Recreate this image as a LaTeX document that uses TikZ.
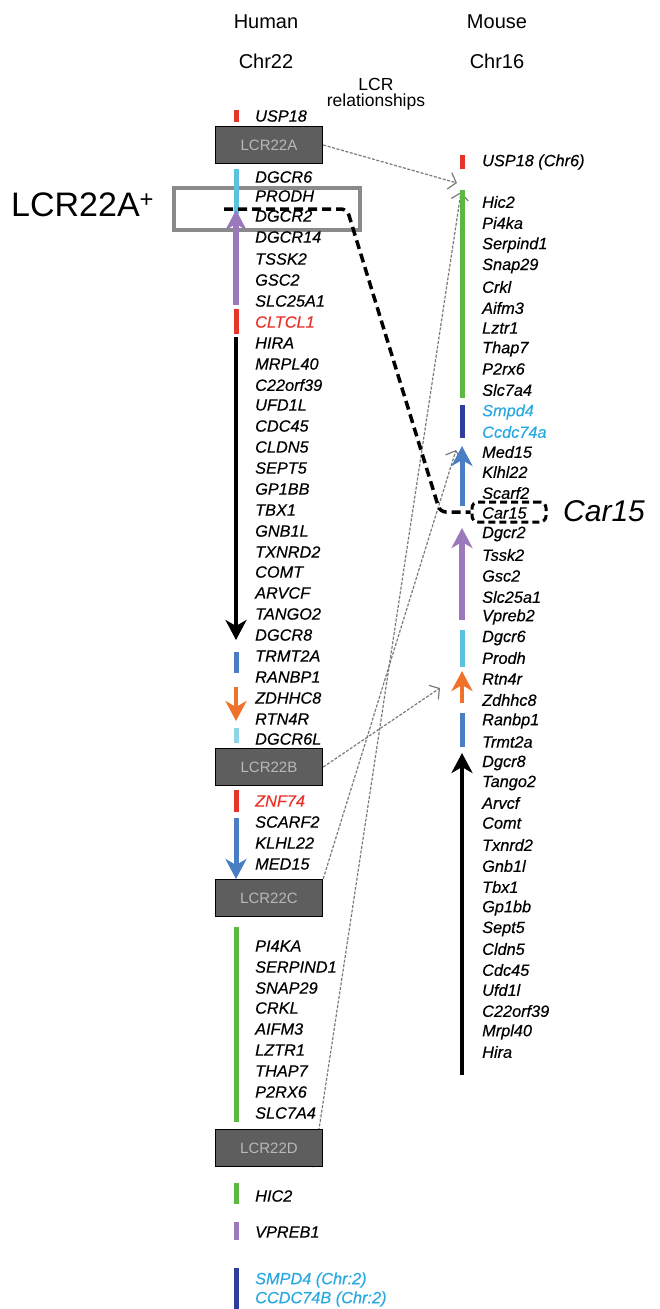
\documentclass[tikz,border=0pt]{standalone}
\usepackage{fontspec}
\setmainfont{Liberation Sans}
\newfontfamily\genefont[FakeBold=0.35]{Liberation Sans}
\usetikzlibrary{arrows.meta,calc,backgrounds}
\definecolor{gred}{HTML}{E8332B}
\definecolor{gcyan}{HTML}{5BC3DD}
\definecolor{gcyanl}{HTML}{8ED3E6}
\definecolor{gpurple}{HTML}{9C78BC}
\definecolor{gblue}{HTML}{4A7EC4}
\definecolor{gdblue}{HTML}{2F3E9C}
\definecolor{gorange}{HTML}{F0712A}
\definecolor{ggreen}{HTML}{5DB842}
\definecolor{gtext}{HTML}{2AA8E0}
\definecolor{lcrfill}{HTML}{5E5E5E}
\definecolor{lcrtext}{HTML}{B8B8B8}
\definecolor{linkgray}{HTML}{7A7A7A}
\definecolor{boxgray}{HTML}{8A8A8A}
\begin{document}
\begin{tikzpicture}[x=1pt,y=-1pt,
  gene/.style={anchor=west,inner sep=0pt,font=\genefont\fontsize{16.3}{16}\selectfont\itshape},
  hdr/.style={inner sep=0pt,font=\fontsize{20}{20}\selectfont},
  lcr/.style={draw=black,line width=1.5pt,fill=lcrfill,text=lcrtext,
    font=\fontsize{15}{15}\selectfont,minimum width=107pt,minimum height=37pt,inner sep=0pt},
  bar/.style={line width=5pt},
  tipbig/.style={-{Stealth[length=20pt,width=21pt,inset=6pt]}},
  link/.style={draw=linkgray,line width=1.2pt,dash pattern=on 3pt off 1.6pt,
    -{Straight Barb[length=7pt,width=17pt]}},
  blackdash/.style={line width=3.5pt,dash pattern=on 9pt off 5pt,rounded corners=6pt},
]
\useasboundingbox (0,0) rectangle (660,1309);

% column headings
\node[hdr] (hum) at (266,22) {Human};
\node[hdr] (hchr) at (266,61) {Chr22};
\node[hdr] (mou) at (497,22) {Mouse};
\node[hdr] (mchr) at (497,61) {Chr16};
\node[inner sep=0pt,font=\fontsize{17.5}{17.5}\selectfont,align=center] (lcrrel) at (376,94)
  {LCR\\[-1pt]relationships};

% highlighted region around LCR22A
\node[draw=boxgray,line width=4pt,minimum width=186pt,minimum height=42pt,inner sep=0pt]
  (aplus) at (267,209) {};
\node[anchor=west,inner sep=0pt,font=\fontsize{34}{34}\selectfont] (aplusl) at (11,205)
  {LCR22A\textsuperscript{+}};

% low copy repeat blocks
\node[lcr] (lcrA) at (269,145) {LCR22A};
\node[lcr] (lcrB) at (269,767) {LCR22B};
\node[lcr] (lcrC) at (269,898) {LCR22C};
\node[lcr] (lcrD) at (269,1148) {LCR22D};

% human chromosome 22 genes
\foreach \n/\y/\g in {1/116/USP18,2/177/DGCR6,3/196/PRODH,4/216/DGCR2,5/237/DGCR14,
  6/259/TSSK2,7/280/GSC2,8/301/SLC25A1,10/343/HIRA,11/364/MRPL40,12/385/C22orf39,
  13/405/UFD1L,14/426/CDC45,15/447/CLDN5,16/468/SEPT5,17/489/GP1BB,18/510/TBX1,
  19/531/GNB1L,20/552/TXNRD2,21/572/COMT,22/593/ARVCF,23/614/TANGO2,24/635/DGCR8,
  25/656/TRMT2A,26/677/RANBP1,27/698/ZDHHC8,28/719/RTN4R,29/739/DGCR6L,
  31/822/SCARF2,32/843/KLHL22,33/864/MED15,34/946/PI4KA,35/967/SERPIND1,
  36/988/SNAP29,37/1008/CRKL,38/1029/AIFM3,39/1050/LZTR1,40/1071/THAP7,
  41/1092/P2RX6,42/1113/SLC7A4,43/1196/HIC2,44/1232/VPREB1}
  \node[gene] (h\n) at (255,\y) {\g};
\node[gene,text=gred] (h9) at (255,322) {CLTCL1};
\node[gene,text=gred] (h30) at (255,801) {ZNF74};
\node[gene,text=gtext] (h45) at (255,1280) {SMPD4 (Chr:2)};
\node[gene,text=gtext] (h46) at (255,1299) {CCDC74B (Chr:2)};

% mouse chromosome 16 genes
\node[gene] (m0) at (482,162) {USP18 (Chr6)};
\foreach \n/\y/\g in {1/202/Hic2,2/223/Pi4ka,3/245/Serpind1,4/266/Snap29,5/287/Crkl,
  6/308/Aifm3,7/328/Lztr1,8/349/Thap7,9/369/P2rx6,10/390/Slc7a4,13/452/Med15,
  14/472/Klhl22,15/493/Scarf2,16/513/Car15,17/534/Dgcr2,18/555/Tssk2,19/576/Gsc2,
  20/597/Slc25a1,21/617/Vpreb2,22/638/Dgcr6,23/658/Prodh,24/679/Rtn4r,25/700/Zdhhc8,
  26/721/Ranbp1,27/742/Trmt2a,28/763/Dgcr8,29/783/Tango2,30/803/Arvcf,31/823/Comt,
  32/845/Txnrd2,33/866/Gnb1l,34/887/Tbx1,35/908/Gp1bb,36/929/Sept5,37/949/Cldn5,
  38/970/Cdc45,39/990/Ufd1l,40/1011/C22orf39,41/1032/Mrpl40,42/1052/Hira}
  \node[gene] (m\n) at (482,\y) {\g};
\node[gene,text=gtext] (m11) at (482,412) {Smpd4};
\node[gene,text=gtext] (m12) at (482,432) {Ccdc74a};

% human segment bars and orientation arrows
\draw[bar,gred] (236,110) -- (236,122);
\draw[bar,gcyan] (236,169) -- (236,214);
\draw[gpurple,line width=6pt,tipbig] (236,305) -- (236,210);
\draw[bar,gred] (236,309) -- (236,334);
\draw[black,line width=4pt,tipbig] (236,337) -- (236,640);
\draw[bar,gblue] (236,652) -- (236,673);
\draw[gorange,line width=4pt,tipbig] (236,687) -- (236,721);
\draw[bar,gcyanl] (236,728) -- (236,743);
\draw[bar,gred] (236,790) -- (236,812);
\draw[gblue,line width=5pt,tipbig] (236,818) -- (236,879);
\draw[bar,ggreen] (236,927) -- (236,1122);
\draw[bar,ggreen] (236,1183) -- (236,1204);
\draw[bar,gpurple] (236,1222) -- (236,1240);
\draw[bar,gdblue] (236,1268) -- (236,1309);

% mouse segment bars and orientation arrows
\draw[bar,gred] (462,155) -- (462,169);
\draw[bar,ggreen] (462,190) -- (462,398);
\draw[bar,gdblue] (462,405) -- (462,438);
\draw[gblue,line width=5pt,tipbig] (462,506) -- (462,446);
\draw[gpurple,line width=6pt,tipbig] (462,620) -- (462,528);
\draw[bar,gcyan] (462,630) -- (462,667);
\draw[gorange,line width=4pt,tipbig] (462,703) -- (462,671);
\draw[bar,gblue] (462,713) -- (462,747);
\draw[black,line width=4pt,tipbig] (462,1075) -- (462,753);

% Car15 breakpoint box and label
\node[draw=black,line width=3pt,dash pattern=on 7pt off 4pt,rounded corners=6pt,
  minimum width=74pt,minimum height=20pt,inner sep=0pt] (c15box) at (509,512) {};
\node[anchor=west,inner sep=0pt,font=\fontsize{30}{30}\selectfont\itshape] (c15l)
  at (563,511) {Car15};

% breakpoint path from LCR22A+ to Car15
\coordinate (dS) at (224,209);
\draw[blackdash] (dS) -- (347,209) -- (440,512) -- (c15box.west);

% LCR relationship links
\coordinate (tA) at (457,183);
\coordinate (tB) at (440,688);
\coordinate (tC) at (456,450);
\coordinate (tD) at (461,192);
\begin{scope}[on background layer]
\draw[link] (lcrA.east) -- (tA);
\draw[link] (lcrB.east) -- (tB);
\draw[link] (lcrC.north east) -- (tC);
\draw[link] ($(lcrD.south east)+(-10,0)$) -- (tD);
\end{scope}
\end{tikzpicture}
\end{document}
